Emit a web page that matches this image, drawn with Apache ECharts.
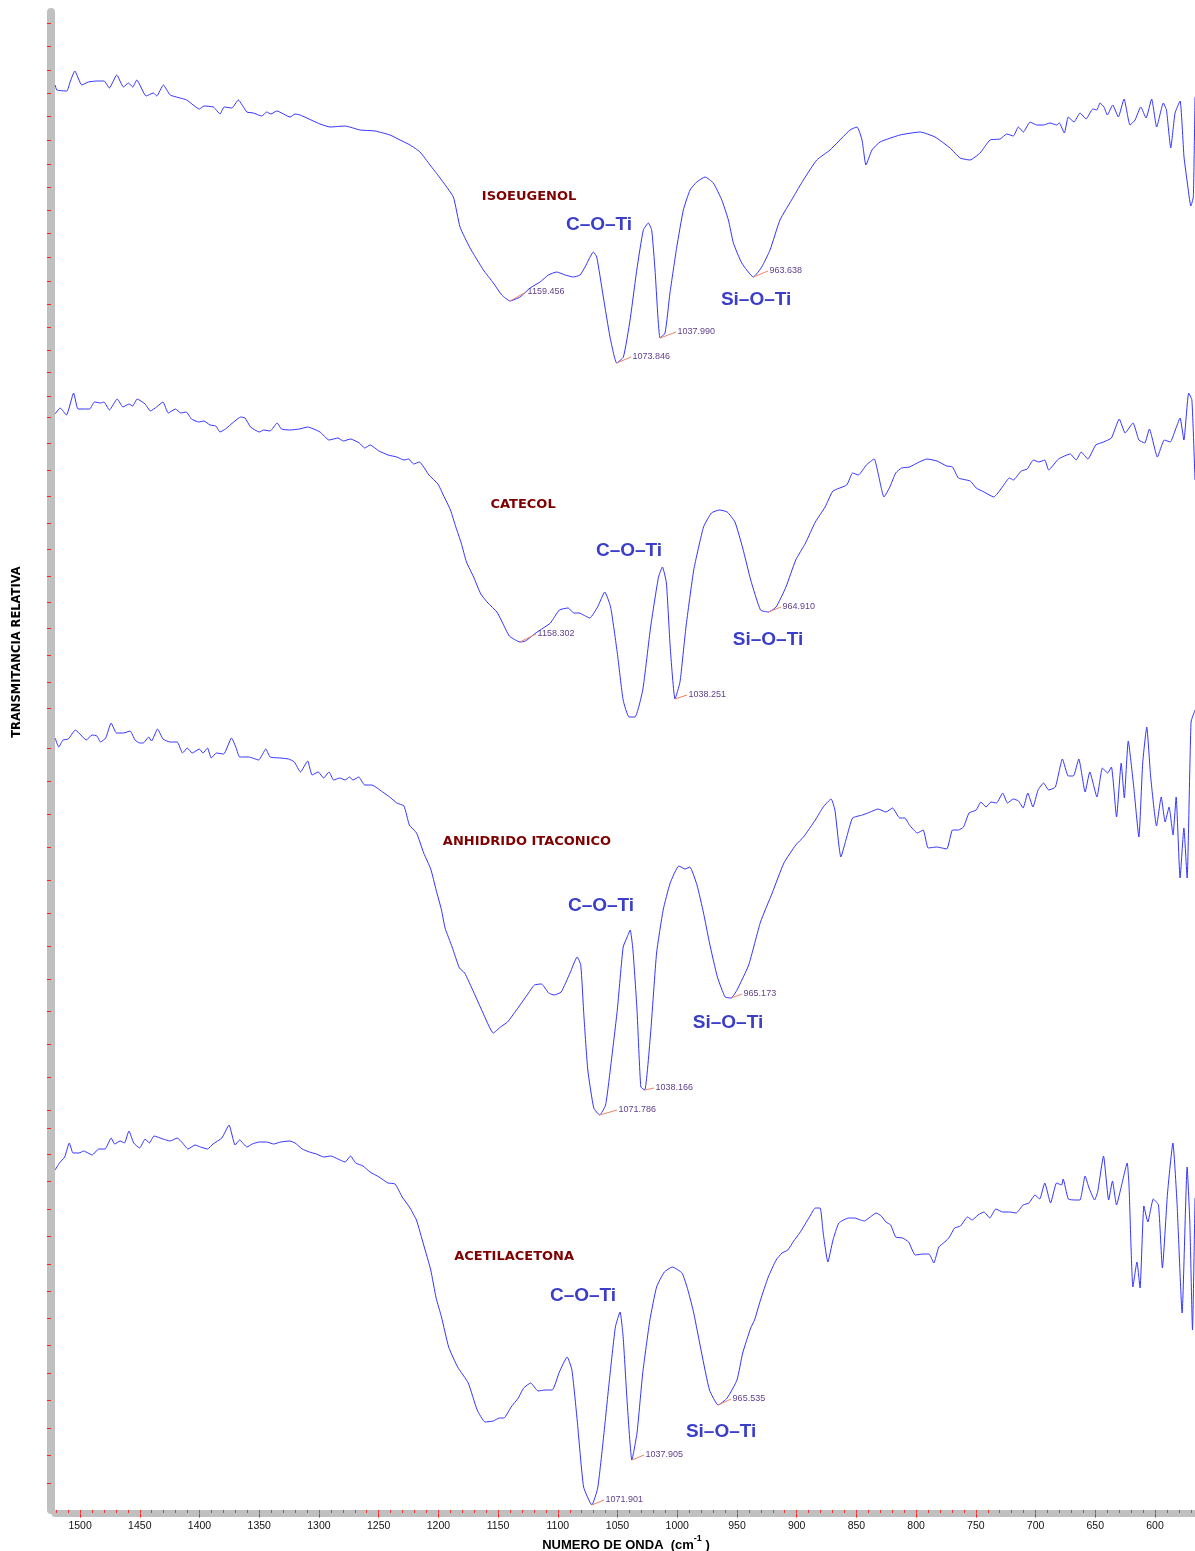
<!DOCTYPE html>
<html>
<head>
<meta charset="utf-8">
<title>FTIR</title>
<script src="https://cdn.jsdelivr.net/npm/echarts@6/dist/echarts.min.js"></script>
<style>
  html, body { margin: 0; padding: 0; background: #fff; }
  #chart { width: 1195px; height: 1551px; }
</style>
</head>
<body>
<div id="chart"></div>
<script>
// [numero de onda, transmitancia relativa]
var isoeugenol = [
  [1520.9,142.5],[1519.5,142.0],[1511.1,141.9],[1508.4,142.8],[1504.4,143.9],[1498.6,142.5],[1493.1,142.8],
  [1486,142.9],[1479.9,142.9],[1475.5,142.2],[1469.3,143.5],[1463.7,142.3],[1459.6,142.7],[1455.9,142.3],
  [1452.5,143.0],[1444.7,141.4],[1438.6,141.7],[1435.8,141.4],[1430.3,142.5],[1424.6,141.5],[1416.3,141.2],
  [1410.7,141.0],[1400.1,140.1],[1396.2,140.4],[1388.4,140.3],[1382.8,139.6],[1379.4,140.3],[1373,140.2],
  [1367.5,141.0],[1360.4,139.8],[1354.9,139.7],[1347.9,139.4],[1343.7,139.8],[1340.3,139.6],[1335.3,139.9],
  [1324.2,139.3],[1320,139.6],[1315.8,139.5],[1299.1,138.6],[1290.7,138.3],[1278.1,138.4],[1265.6,138.0],
  [1253,137.9],[1240.5,137.5],[1232.1,137.0],[1223.7,136.5],[1215.4,135.8],[1207,134.5],[1198.6,133.2],
  [1187.5,131.3],[1181.9,128.3],[1173.5,126.2],[1162.3,124.0],[1154,122.7],[1146.9,121.5],[1140,120.9],
  [1131.6,121.3],[1123.2,122.2],[1114.9,122.8],[1107.9,123.5],[1100.9,123.8],[1093.9,123.5],[1087,123.3],
  [1081.4,123.5],[1077.2,124.3],[1070.2,125.8],[1067.4,125.3],[1061.9,121.3],[1056.3,117.3],[1050.7,114.7],
  [1045.1,115.3],[1039.5,119.0],[1033.9,124.0],[1028.4,128.0],[1024.2,128.7],[1021.4,128.0],[1018.6,124.0],
  [1014.4,117.2],[1010.2,117.7],[1006.1,121.7],[1000.4,126.3],[994.9,130.0],[989.3,132.0],[983.7,132.8],
  [976.7,133.3],[969.8,132.7],[962.7,131.0],[957.2,129.0],[953,126.7],[946,124.7],[936.3,123.3],
  [929.3,124.3],[922.3,126.0],[914,129.0],[902.8,131.3],[894.4,133.0],[883.2,135.0],[872.1,136.0],
  [855.4,138.0],[849.5,138.3],[845.3,137.0],[842,134.5],[837,136.0],[830.2,136.8],[813.5,137.5],
  [796.7,137.8],[784.2,137.3],[771.6,136.2],[763.2,135.2],[754.9,135.0],[746.5,135.7],[738.1,137.0],
  [729.7,137.1],[724.1,137.6],[718.6,137.4],[714.4,138.3],[710.2,137.8],[704.6,138.8],[699,138.5],
  [693.5,138.5],[687.9,138.7],[682.3,138.5],[680.1,138.7],[675.9,137.7],[672.6,139.3],[667.8,138.8],
  [662.8,139.7],[657.7,139.1],[652.1,140.1],[648.8,140.0],[646,140.7],[642.7,140.3],[639.9,139.5],
  [635.4,140.5],[630.7,139.3],[625.9,141.1],[620.9,138.5],[616.7,139.0],[611.9,140.3],[607.5,139.2],
  [602.8,141.1],[598.6,138.3],[593,140.7],[590.4,140.0],[586.8,136.2],[583.2,139.7],[579,140.9],
  [575.7,135.3],[572.9,132.7],[570,130.4],[567.9,131.3],[566.5,141.3]
];

var catecol = [
  [1520.9,109.6],[1516.7,110.2],[1511.4,109.5],[1505.4,111.7],[1501.8,110.1],[1496.4,110.1],[1492,110.1],
  [1488,110.8],[1482.9,110.7],[1480,110.8],[1475.5,110.0],[1468.9,111.1],[1464.1,110.3],[1459.1,110.6],
  [1456,110.4],[1452.2,111.1],[1445.6,110.6],[1441.1,109.9],[1436,110.3],[1430.6,110.8],[1426.2,109.7],
  [1420.1,110.1],[1415.7,109.7],[1411.2,109.8],[1406.7,109.1],[1400.7,108.8],[1396.3,108.9],[1391.2,108.5],
  [1386.4,108.4],[1382.8,107.8],[1378.3,108.1],[1371.4,108.8],[1365.5,109.3],[1361.9,109.2],[1357.3,108.3],
  [1349.9,107.8],[1346.3,108.0],[1340.9,107.9],[1335,108.7],[1331.4,108.1],[1324.5,108.0],[1316.4,108.1],
  [1309.5,108.3],[1299.1,107.8],[1291.6,107.0],[1284.1,107.2],[1279.6,106.9],[1273.6,107.1],[1266.2,106.7],
  [1261.7,106.2],[1257.2,106.5],[1249.7,105.9],[1242.2,105.5],[1234.8,105.3],[1228.8,105.0],[1224.9,105.1],
  [1220.7,104.6],[1215.9,104.8],[1207.9,103.5],[1200.4,102.6],[1195.9,101.5],[1189.9,100.0],[1185.4,98.3],
  [1180.9,96.7],[1176.5,94.8],[1170.5,93.3],[1164.5,91.6],[1158.5,90.7],[1151,89.8],[1146.6,88.8],
  [1140.6,87.4],[1131.6,86.8],[1127.1,86.9],[1119.6,87.6],[1112.2,88.2],[1106.2,88.7],[1098.7,90.0],
  [1091.3,90.2],[1086.7,89.7],[1082.3,89.7],[1073.3,89.2],[1066.7,90.3],[1060.7,91.8],[1055.8,90.3],
  [1050.2,85.7],[1045.3,81.0],[1040.4,79.3],[1035.4,79.3],[1028.9,82.0],[1022.3,88.3],[1015.7,93.3],
  [1012.4,94.3],[1009.1,92.7],[1005.9,86.3],[1001.9,81.1],[997.7,82.8],[992.7,88.3],[986.2,94.0],
  [978,98.3],[971.4,99.7],[964.8,100.0],[958.2,99.8],[951.7,98.8],[945.2,96.2],[938.5,93.0],
  [930.3,90.0],[923.8,89.8],[917.2,90.3],[909,92.3],[900.8,95.0],[892.6,96.7],[884.4,98.8],
  [876.2,100.3],[869.6,101.9],[858.1,102.5],[853.2,103.7],[848.3,103.5],[841.7,104.5],[835.1,105.1],
  [831.9,103.7],[826.9,101.3],[822,102.3],[817.1,103.7],[812.1,104.2],[805.6,104.3],[797.4,104.8],
  [790.8,105.1],[782.6,104.9],[774.4,104.4],[769.5,104.3],[764.6,103.2],[754.7,102.9],[749.7,102.2],
  [743.1,101.8],[735,101.3],[728.4,102.2],[721.9,103.2],[718.6,103.0],[712,103.9],[707,104.1],
  [701.8,105.0],[697.3,104.8],[692.3,105.0],[689,104.0],[680.8,105.1],[671,105.6],[666,105.0],
  [661.8,105.8],[656.2,105.1],[649.6,106.5],[643.1,106.8],[636.5,107.2],[629.9,109.1],[625,107.7],
  [618.4,108.7],[613.5,107.0],[608.6,106.7],[604.7,108.1],[598,105.3],[592.2,107.0],[587.2,106.8],
  [583,108.0],[579,109.2],[575.8,107.0],[571.8,111.7],[569.1,111.0],[566.5,103.0]
];

var anhidridoItaconico = [
  [1520.9,77.2],[1517.9,76.3],[1514.3,77.0],[1509.9,77.1],[1503.9,78.0],[1499.4,77.5],[1494.9,77.0],
  [1489.9,77.5],[1485.9,77.4],[1482.9,76.8],[1478.5,77.2],[1474,78.7],[1469.5,77.7],[1463.5,77.7],
  [1458.1,77.9],[1454,77.0],[1450.1,76.7],[1447.1,76.7],[1442.6,77.3],[1440.2,76.9],[1435.1,78.1],
  [1430.6,77.1],[1424.6,76.8],[1418.7,76.8],[1414.2,75.7],[1410.3,76.2],[1406.1,75.7],[1400.1,76.1],
  [1397.1,75.7],[1393.3,76.2],[1390.2,75.2],[1385.8,75.7],[1379.8,75.6],[1373.2,77.2],[1369.3,76.2],
  [1366.4,75.3],[1358.8,75.3],[1350.5,75.0],[1344.5,76.1],[1340.9,75.3],[1332.6,75.2],[1325.4,75.1],
  [1320.6,74.8],[1315.5,73.8],[1309.5,74.9],[1305.7,73.5],[1300.6,73.8],[1296.1,73.2],[1291.6,73.8],
  [1287.7,73.0],[1282.6,73.2],[1278.1,73.0],[1274.5,73.3],[1271.5,73.0],[1266.7,73.3],[1261.7,72.5],
  [1255.7,72.5],[1251.3,72.2],[1246.7,71.8],[1240.8,71.3],[1234.8,70.7],[1228.8,70.4],[1224.3,68.5],
  [1218.3,67.7],[1212.3,65.7],[1206.4,64.1],[1201.9,62.0],[1197.4,60.0],[1194.4,58.2],[1188.5,56.3],
  [1182.4,54.2],[1178,53.7],[1170.5,51.8],[1163,49.8],[1154,47.7],[1148,48.3],[1142.1,48.8],
  [1134.6,50.0],[1125.7,51.5],[1119.6,52.5],[1113.7,52.6],[1107.7,51.7],[1103.2,51.5],[1097.2,51.8],
  [1089.8,53.7],[1083.8,55.3],[1080.8,54.5],[1078.1,49.3],[1074.9,44.0],[1069.9,40.2],[1065,39.5],
  [1060,40.5],[1055.1,45.0],[1050.2,50.0],[1045.3,56.3],[1041.9,57.3],[1039.4,58.0],[1037.1,56.0],
  [1033.7,50.0],[1030.5,42.3],[1027.2,42.0],[1022.3,47.7],[1017.3,55.7],[1011.8,60.0],[1005.9,62.7],
  [998.7,64.4],[993.4,64.1],[989.5,64.3],[983.5,62.5],[978,59.7],[973,56.7],[966.4,53.3],
  [959.9,51.3],[954.9,51.2],[950,52.0],[940.2,54.5],[930.3,58.8],[920.5,61.7],[910.7,64.7],
  [900.8,66.5],[894.3,67.3],[884.4,69.0],[877.8,70.3],[871.2,71.1],[868,70.0],[863,65.3],
  [858.1,67.3],[853.2,69.2],[844.9,69.5],[838.4,69.8],[831.9,70.1],[825.3,69.8],[819.7,70.2],
  [813.8,69.2],[809.5,69.2],[805.6,68.5],[799,67.7],[794.1,68.0],[789.9,66.2],[782.6,66.3],
  [774.4,66.1],[769.5,68.0],[764.6,68.0],[760.3,68.3],[755.7,69.7],[749.7,70.0],[745.8,70.8],
  [741.5,70.3],[737.3,70.8],[732.7,70.7],[727.5,71.7],[723.5,70.7],[718.6,71.1],[714.3,70.9],
  [710.4,70.2],[706.5,71.7],[702.2,70.3],[697.9,72.0],[693.3,72.7],[689,72.0],[683.4,72.3],
  [677.5,75.1],[672.6,73.4],[668.4,73.4],[663.8,75.1],[658.5,71.8],[654.6,73.8],[648.6,71.3],
  [644,74.2],[639.7,73.7],[636.5,74.3],[632.2,69.3],[628.3,74.7],[625.7,71.2],[622.4,76.9],
  [617.8,72.3],[613.5,67.3],[610.3,74.7],[606.9,78.3],[603.6,73.3],[598.7,68.4],[594.8,71.3],
  [591.5,68.8],[588.2,70.3],[584.9,67.5],[582.3,71.3],[579,63.2],[575.8,68.2],[573.1,63.2],
  [569.8,78.8],[566.5,80.0]
];

var acetilacetona = [
  [1520.9,34.0],[1517.3,34.7],[1512.9,35.3],[1509,36.7],[1505.9,35.7],[1500.9,35.7],[1497,35.9],
  [1493.4,35.7],[1489.9,35.5],[1484.4,36.1],[1479.1,36.1],[1474,37.2],[1471,36.6],[1466.5,36.9],
  [1462.9,36.7],[1459.1,37.9],[1455.1,36.7],[1450.1,36.2],[1445.6,37.1],[1442,36.7],[1438.1,37.4],
  [1430.6,37.1],[1424.6,36.9],[1418.7,37.2],[1414.2,36.7],[1409.7,36.1],[1403.7,36.5],[1399.2,36.3],
  [1393.3,36.1],[1388.7,36.6],[1381.3,37.2],[1375.3,38.5],[1370.2,36.5],[1366.4,37.0],[1360.3,36.3],
  [1355.9,36.6],[1349.9,36.8],[1343.9,36.8],[1337.9,36.6],[1332,36.8],[1324.5,36.9],[1320,36.7],
  [1314,36.1],[1308,35.8],[1302.1,35.6],[1296,35.3],[1290.1,35.4],[1284.1,35.1],[1278.1,34.8],
  [1273.6,35.4],[1269.2,34.7],[1263.1,34.4],[1257.2,33.8],[1249.7,33.3],[1242.2,32.7],[1236.3,32.6],
  [1230.3,31.3],[1224.3,30.3],[1218.4,29.0],[1212.3,26.5],[1206.4,24.0],[1201.9,21.2],[1197.4,19.3],
  [1191.4,16.3],[1183.9,14.3],[1175,12.7],[1167.5,10.0],[1160.9,8.8],[1154,8.9],[1148.9,9.2],
  [1145.1,9.2],[1139.1,10.3],[1133.1,11.2],[1128.6,12.2],[1122.7,12.7],[1116.6,11.9],[1110.7,12.0],
  [1104.7,12.0],[1098.7,13.8],[1092.2,15.3],[1088.2,14.0],[1083.8,9.0],[1078.4,2.3],[1071.5,0.5],
  [1066.6,2.2],[1061.7,7.3],[1056.8,13.0],[1051.8,18.3],[1047.9,19.8],[1045.3,17.3],[1041.9,10.7],
  [1038,5.0],[1033.7,7.7],[1028.9,13.7],[1022.9,19.0],[1017.3,22.3],[1010.8,23.8],[1004.2,24.3],
  [996,23.7],[991.1,22.0],[986.2,19.7],[979.6,15.7],[973,12.0],[965.8,10.5],[958.2,11.2],
  [950,13.0],[945.2,15.7],[938.5,18.2],[935.3,19.0],[930.3,21.0],[923.8,23.3],[917.2,25.0],
  [912.3,25.7],[907.4,26.0],[902.5,26.9],[897.5,27.7],[889.3,29.3],[884.4,30.2],[880.4,30.2],
  [877.8,27.7],[873.9,24.8],[869.6,27.0],[864.7,28.7],[856.5,29.2],[851.6,29.2],[846.6,29.0],
  [843.4,28.9],[838.4,29.3],[833.5,29.7],[829.2,29.4],[825.3,28.8],[821.3,28.5],[817.1,27.3],
  [811.4,27.2],[806.3,26.8],[800.7,25.5],[794.1,25.6],[789.2,25.6],[785.2,24.7],[781,26.3],
  [776,26.8],[772.1,27.3],[767.8,28.2],[762.9,28.4],[756.9,29.3],[753,29.0],[748.2,29.5],
  [743.2,29.8],[738.3,29.2],[733.3,30.1],[727.5,29.8],[721.9,29.8],[716.3,29.7],[710.4,30.5],
  [705.5,30.7],[700.5,31.5],[696.6,31.1],[692.3,32.7],[687.4,30.7],[682.4,32.7],[678.2,32.5],
  [676.9,33.1],[672.6,31.1],[667,31.0],[662.8,31.0],[658.5,33.4],[655.2,32.2],[650.6,31.0],
  [648,31.8],[643.1,35.4],[638.8,31.0],[635.6,32.9],[632.2,30.5],[628.3,32.3],[623.3,34.7],
  [621.7,32.3],[618.5,22.3],[615.1,24.8],[612.5,22.2],[609.3,30.4],[606,28.8],[601.4,31.1],
  [597.1,30.5],[593.8,24.2],[589.5,31.7],[585,36.7],[581.6,30.8],[577.3,19.7],[573.1,34.3],
  [570.8,28.7],[568.6,18.0],[566.5,31.2]
];

var spectra = [isoeugenol, catecol, anhidridoItaconico, acetilacetona];
var sampleNames = ['ISOEUGENOL', 'CATECOL', 'ANHIDRIDO ITACONICO', 'ACETILACETONA'];
var sampleNamePos = [[1124.1, 131.3], [1129.1, 100.5], [1125.8, 66.8], [1136.6, 25.3]];
var cotiPos = [[1065.5, 128.5], [1040.4, 95.9], [1063.8, 60.4], [1078.9, 21.4]];
var siotiPos = [[934.0, 121.0], [924.0, 87.0], [957.5, 48.7], [963.3, 7.8]];

// peak: [peak wn, peak T, label wn, label T, text]
var peaks = [
  [[1140, 120.9, 1126.6, 121.8, '1159.456'], [1050.7, 114.7, 1038.7, 115.3, '1073.846'],
   [1014.4, 117.2, 1001, 117.8, '1037.990'], [936.3, 123.3, 924, 123.9, '963.638']],
  [[1131.6, 86.8, 1118.2, 87.6, '1158.302'], [1001.9, 81.1, 991.8, 81.5, '1038.251'],
   [923.8, 89.8, 913.1, 90.3, '964.910']],
  [[1065, 39.5, 1050.4, 40.0, '1071.786'], [1027.2, 42.0, 1019.4, 42.2, '1038.166'],
   [954.9, 51.2, 945.7, 51.6, '965.173']],
  [[1071.5, 0.5, 1061.3, 1.0, '1071.901'], [1038, 5.0, 1027.8, 5.5, '1037.905'],
   [965.8, 10.5, 954.9, 11.1, '965.535']]
];

var wnTicks = [1500, 1450, 1400, 1350, 1300, 1250, 1200, 1150, 1100, 1050, 1000, 950, 900, 850, 800, 750, 700, 650, 600];
var wnMinorTicks = [];
for (var t = 570; t <= 1520; t += 10) wnMinorTicks.push(t);

var tTicks = [
  148.7, 146.4, 144, 141.7, 139.4, 137, 134.6, 132.3, 130, 127.7, 125.3, 122.9, 120.6, 118.3, 116, 113.8,
  111.4, 109.3, 106.7, 104, 101.4, 98.7, 96.1, 93.4, 90.8, 88.2, 85.5, 82.8, 80.2,
  76.2, 72.9, 69.6, 66.3, 63, 59.7, 56.4, 53.1, 49.9, 46.6, 43.3, 40.0,
  38.2, 35.6, 32.9, 30.1, 27.4, 24.6, 21.9, 19.2, 16.5, 13.7, 11, 8.2, 5.5, 2.7
];

var chart = echarts.init(document.getElementById('chart'));

var series = [];
spectra.forEach(function (data, i) {
  series.push({
    name: sampleNames[i],
    type: 'line',
    data: data,
    showSymbol: false,
    silent: true,
    smooth: 0.15,
    lineStyle: { color: '#3434ff', width: 1 },
    markLine: {
      silent: true,
      symbol: ['none', 'none'],
      label: { show: false },
      lineStyle: { color: '#f08468', width: 1, type: 'solid' },
      data: peaks[i].map(function (p) {
        return [{ coord: [p[0], p[1]] }, { coord: [p[2], p[3]] }];
      })
    }
  });
});

function textSeries(name, points, texts, label) {
  return {
    name: name,
    type: 'scatter',
    silent: true,
    symbolSize: 1,
    itemStyle: { color: 'transparent', opacity: 1 },
    label: Object.assign({ show: true, formatter: '{b}' }, label),
    data: points.map(function (p, i) {
      return { name: texts[i], value: p };
    })
  };
}

var coti = 'C\u2013O\u2013Ti', sioti = 'Si\u2013O\u2013Ti';
series.push(textSeries('muestras', sampleNamePos, sampleNames, {
  position: 'inside', color: '#7f0000', fontSize: 13, fontWeight: 'bold', fontFamily: 'DejaVu Sans'
}));
series.push(textSeries('coti', cotiPos, [coti, coti, coti, coti], {
  position: 'inside', color: '#3a3ec8', fontSize: 19, fontWeight: 'bold', fontFamily: 'Liberation Sans'
}));
series.push(textSeries('sioti', siotiPos, [sioti, sioti, sioti, sioti], {
  position: 'inside', color: '#3a3ec8', fontSize: 19, fontWeight: 'bold', fontFamily: 'Liberation Sans'
}));

var peakPts = [], peakTexts = [];
peaks.forEach(function (list) {
  list.forEach(function (p) {
    peakPts.push([p[2], p[3]]);
    peakTexts.push(p[4]);
  });
});
series.push(textSeries('picos', peakPts, peakTexts, {
  position: 'right', distance: 1, color: '#5e3f8c', fontSize: 9, fontFamily: 'Liberation Sans'
}));

var option = {
  animation: false,
  backgroundColor: '#ffffff',
  grid: { left: 55, right: 0, top: 12, bottom: 41 },
  xAxis: [
    {
      type: 'value', min: 566.5, max: 1521, inverse: true, position: 'bottom', offset: 3.5,
      axisLine: { show: true, onZero: false, lineStyle: { color: '#c0c0c0', width: 7 } },
      axisTick: { show: true, customValues: wnTicks, length: 4, lineStyle: { color: '#ff2020', width: 1 } },
      axisLabel: {
        customValues: wnTicks, margin: 7, fontSize: 10.5, color: '#111', fontFamily: 'Liberation Sans',
        formatter: function (v) { return String(v); }
      },
      splitLine: { show: false }
    },
    {
      type: 'value', min: 566.5, max: 1521, inverse: true, position: 'bottom', offset: 3.5,
      axisLine: { show: false },
      axisTick: { show: true, customValues: wnMinorTicks, length: 3, lineStyle: { color: '#ff3030', width: 1 } },
      axisLabel: { show: false },
      splitLine: { show: false }
    }
  ],
  yAxis: {
    type: 'value', min: 0, max: 149.8, position: 'left', offset: 4,
    axisLine: { show: true, onZero: false, lineStyle: { color: '#c0c0c0', width: 8 } },
    axisTick: { show: true, customValues: tTicks, length: 4, lineStyle: { color: '#ff2020', width: 1 } },
    axisLabel: { show: false },
    splitLine: { show: false }
  },
  graphic: [
    {
      type: 'text', x: 17, y: 652,
      rotation: Math.PI / 2,
      style: {
        text: 'TRANSMITANCIA RELATIVA', font: 'bold 11.5px "DejaVu Sans"', fill: '#000',
        align: 'center', verticalAlign: 'middle'
      }
    },
    {
      type: 'text', x: 626, y: 1543,
      style: {
        text: '{a|NUMERO DE ONDA  (cm}{s|-1}{a| )}',
        align: 'center', verticalAlign: 'middle',
        rich: {
          a: { font: 'bold 13px "Liberation Sans"', fill: '#000', verticalAlign: 'bottom', lineHeight: 18 },
          s: { font: 'bold 9px "Liberation Sans"', fill: '#000', verticalAlign: 'top', lineHeight: 18 }
        }
      }
    }
  ],
  series: series
};

chart.setOption(option);
</script>
</body>
</html>
